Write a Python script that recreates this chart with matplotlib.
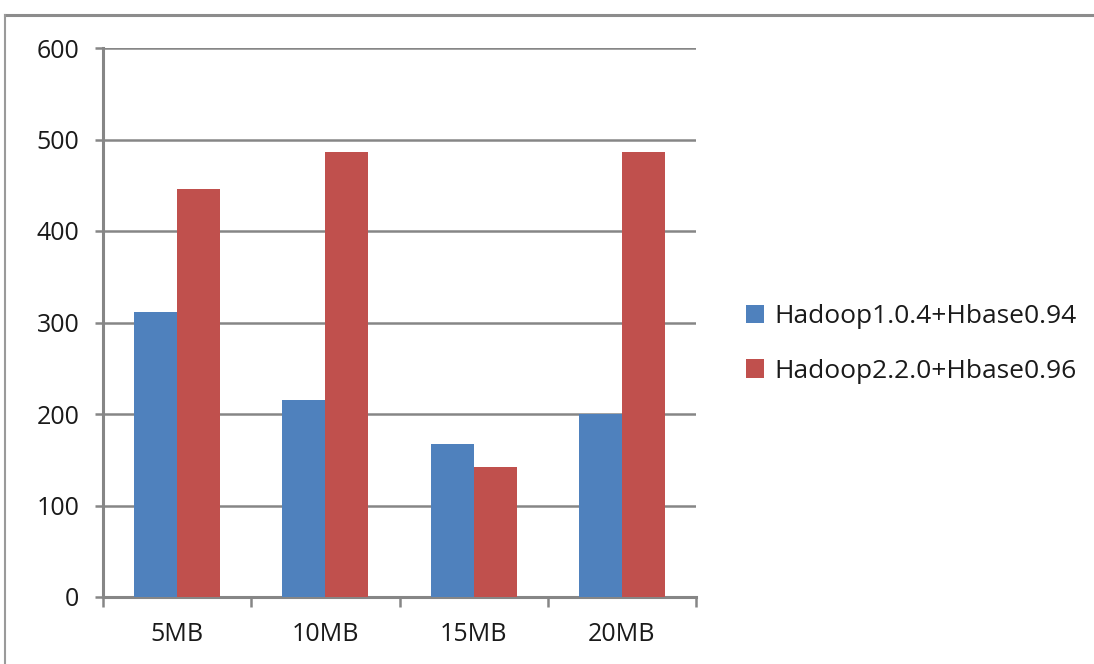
import matplotlib
matplotlib.use("Agg")
import matplotlib.pyplot as plt
import numpy as np
from matplotlib.lines import Line2D
from matplotlib.patches import Patch

categories = ["5MB", "10MB", "15MB", "20MB"]
hadoop1 = [311, 215, 167, 200]
hadoop2 = [446, 486, 142, 486]
series_names = ["Hadoop1.0.4+Hbase0.94", "Hadoop2.2.0+Hbase0.96"]
yticks = [0, 100, 200, 300, 400, 500, 600]

blue = "#4F81BD"
red = "#C0504D"
grid_c = "#868686"
text_c = "#1a1a1a"

plt.rcParams["font.family"] = ["Open Sans", "DejaVu Sans"]

fig = plt.figure(figsize=(10.94, 6.64), dpi=100)
ax = fig.add_axes([103 / 1094, 1 - 597 / 664, (696 - 103) / 1094, (597 - 48) / 664])

x = np.arange(len(categories))
w = 0.29
ax.bar(x - w / 2, hadoop1, w, color=blue, zorder=3)
ax.bar(x + w / 2, hadoop2, w, color=red, zorder=3)

ax.set_xlim(-0.5, len(categories) - 0.5)
ax.set_ylim(0, 600)
ax.set_yticks(yticks)
ax.yaxis.grid(True, color=grid_c, linewidth=1.8, zorder=0)
ax.set_axisbelow(True)

# category labels centred, ticks on the category boundaries
ax.set_xticks(x)
ax.set_xticklabels(categories, fontsize=18, color=text_c)
ax.set_xticks(np.arange(-0.5, len(categories)), minor=True)
ax.tick_params(axis="x", which="major", length=0, pad=18)
ax.tick_params(axis="x", which="minor", length=7, width=1.8, color=grid_c, direction="out")
ax.tick_params(axis="y", length=6, width=1.8, color=grid_c, labelsize=18,
               labelcolor=text_c, pad=11)

for s in ["top", "right"]:
    ax.spines[s].set_visible(False)
for s in ["left", "bottom"]:
    ax.spines[s].set_color(grid_c)
    ax.spines[s].set_linewidth(2.2)

handles = [Patch(facecolor=blue), Patch(facecolor=red)]
leg = fig.legend(handles, series_names, loc="center left",
                 bbox_to_anchor=(722 / 1094, 1 - 344 / 664), frameon=False,
                 fontsize=19, handlelength=0.7, handleheight=0.7,
                 handletextpad=0.4, labelspacing=1.12)
for t in leg.get_texts():
    t.set_color(text_c)

# outer chart frame
fig.add_artist(Line2D([5 / 1094, 1], [1 - 15 / 664, 1 - 15 / 664], color="#8c8c8c", linewidth=2.2))
fig.add_artist(Line2D([5 / 1094, 5 / 1094], [0, 1 - 15 / 664], color="#9a9a9a", linewidth=1.5))

fig.savefig("out.png", dpi=100)
